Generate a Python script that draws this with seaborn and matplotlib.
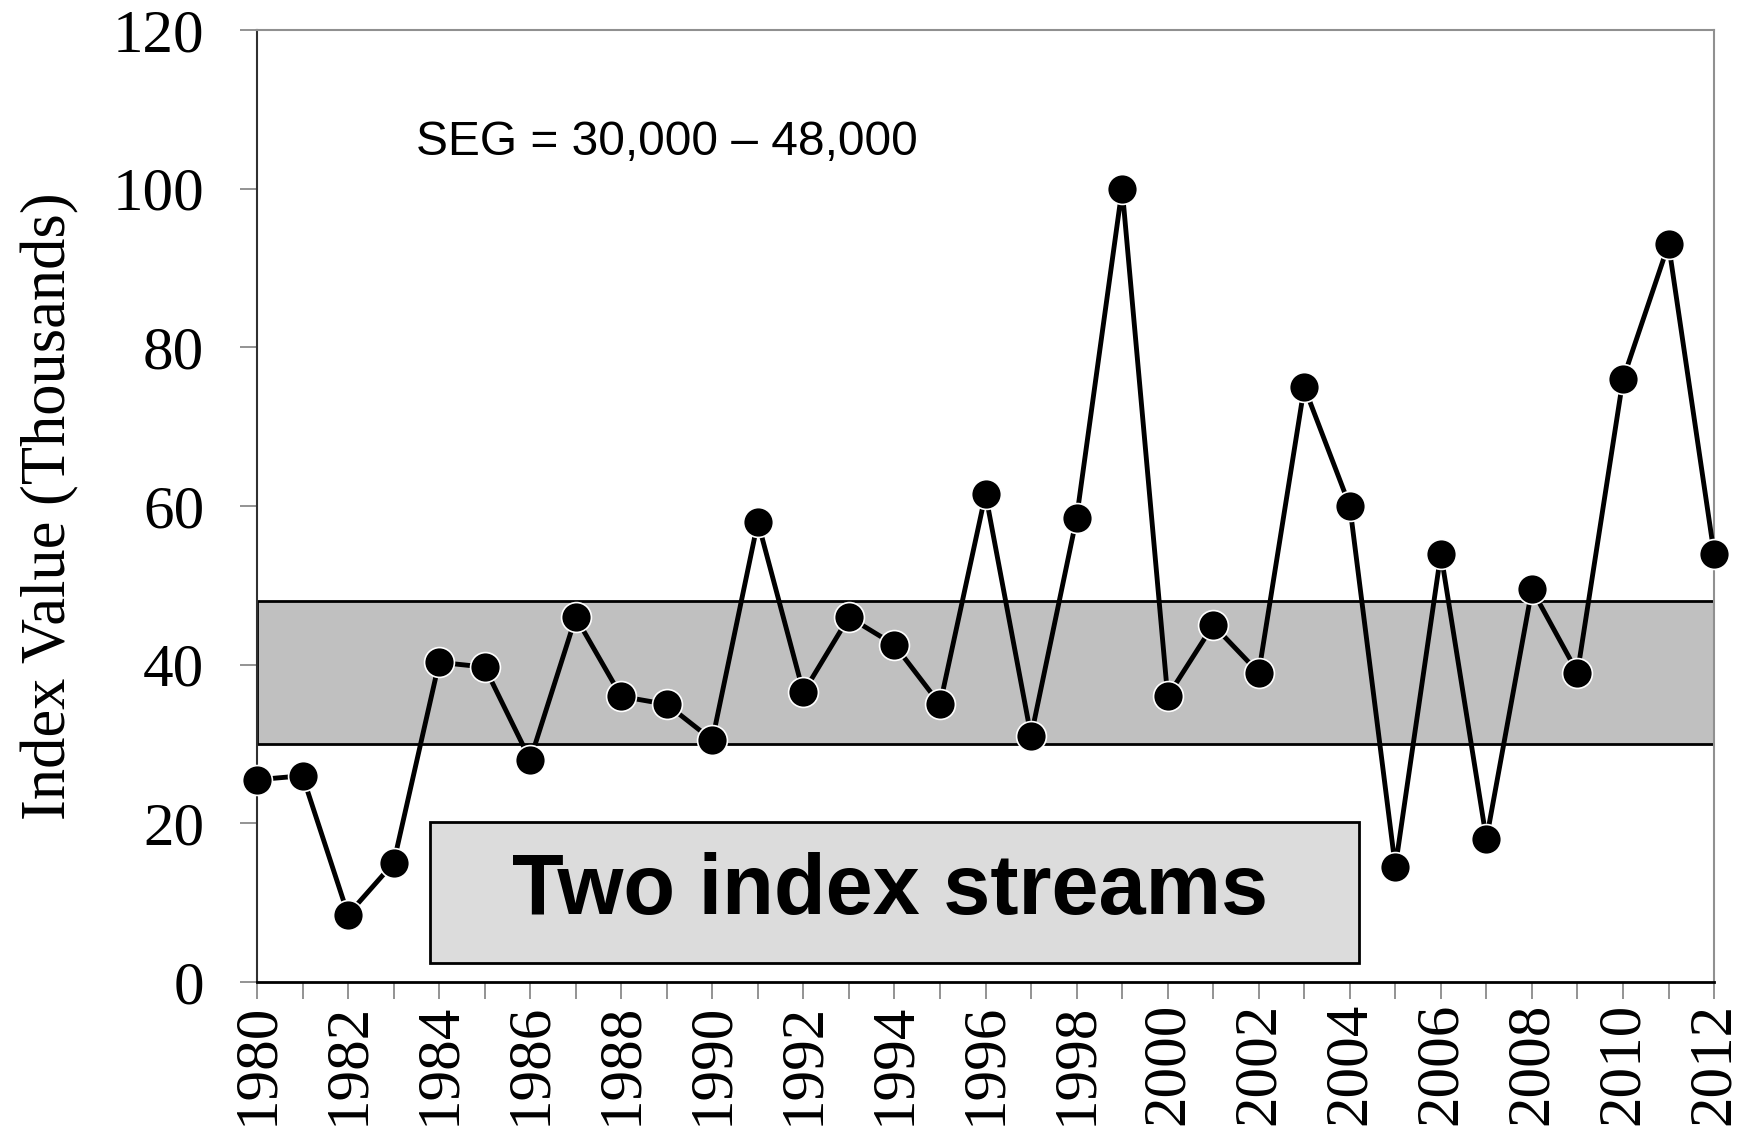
import pandas as pd
import matplotlib
matplotlib.use("Agg")
import matplotlib.pyplot as plt
import seaborn as sns
from matplotlib.patches import Rectangle

# Index values in thousands
years = list(range(1980, 2013))
index_values = [25.5, 26.0, 8.5, 15.0, 40.3, 39.7, 28.0, 46.0, 36.0, 35.0,
                30.5, 58.0, 36.5, 46.0, 42.5, 35.0, 61.5, 31.0, 58.5, 100.0,
                36.0, 45.0, 39.0, 75.0, 60.0, 14.5, 54.0, 18.0, 49.5, 39.0,
                76.0, 93.0, 54.0]
seg_range = [30, 48]
y_ticks = [0, 20, 40, 60, 80, 100, 120]
seg_label = "SEG = 30,000 \u2013 48,000"
box_label = "Two index streams"

df = pd.DataFrame({"Year": years, "Index": index_values})

sns.set_style("white")
plt.rcParams["font.family"] = ["Liberation Serif", "DejaVu Serif"]
plt.rcParams["text.color"] = "black"
plt.rcParams["axes.labelcolor"] = "black"
plt.rcParams["xtick.labelcolor"] = "black"
plt.rcParams["ytick.labelcolor"] = "black"

fig = plt.figure(figsize=(17.53, 11.37), dpi=100)
ax = fig.add_axes([0.1466, 0.1363, 0.8312, 0.8373])

# sustainable escapement goal band
ax.axhspan(seg_range[0], seg_range[1], facecolor="#c0c0c0",
           edgecolor="black", linewidth=2, zorder=1)

sns.lineplot(data=df, x="Year", y="Index", ax=ax, color="black",
             linewidth=3.5, marker="o", markersize=21.5,
             markerfacecolor="black", markeredgecolor="white",
             markeredgewidth=1.2, zorder=3, clip_on=False)

# label box
ax.add_patch(Rectangle((1983.8, 2.4), 20.4, 17.8, facecolor="#dcdcdc",
                       edgecolor="black", linewidth=2, zorder=2))
ax.text(1993.9, 11.4, box_label, ha="center", va="center", fontsize=61,
        fontweight="bold", family=["Liberation Sans", "DejaVu Sans"], zorder=4)
ax.text(1983.5, 105.8, seg_label, ha="left", va="center", fontsize=34.5,
        family=["Liberation Sans", "DejaVu Sans"], zorder=4)

ax.set_xlim(1980, 2012)
ax.set_ylim(0, 120)
ax.set_yticks(y_ticks)
ax.set_xticks(years)
ax.set_xticklabels([str(y) if (y - 1980) % 2 == 0 else "" for y in years],
                   rotation=90)
ax.tick_params(axis="both", direction="out", length=12, width=1.2,
               color="#808080", labelsize=44)
ax.tick_params(axis="x", bottom=True, pad=3)
ax.tick_params(axis="y", left=True, pad=26)
ax.set_xlabel("")
ax.set_ylabel("Index Value (Thousands)", fontsize=45, labelpad=24)

for side in ["top", "right"]:
    ax.spines[side].set_color("#909090")
    ax.spines[side].set_linewidth(1.5)
ax.spines["left"].set_color("#303030")
ax.spines["left"].set_linewidth(1.5)
ax.spines["bottom"].set_color("black")
ax.spines["bottom"].set_linewidth(2)

fig.savefig("out.png", dpi=100)
